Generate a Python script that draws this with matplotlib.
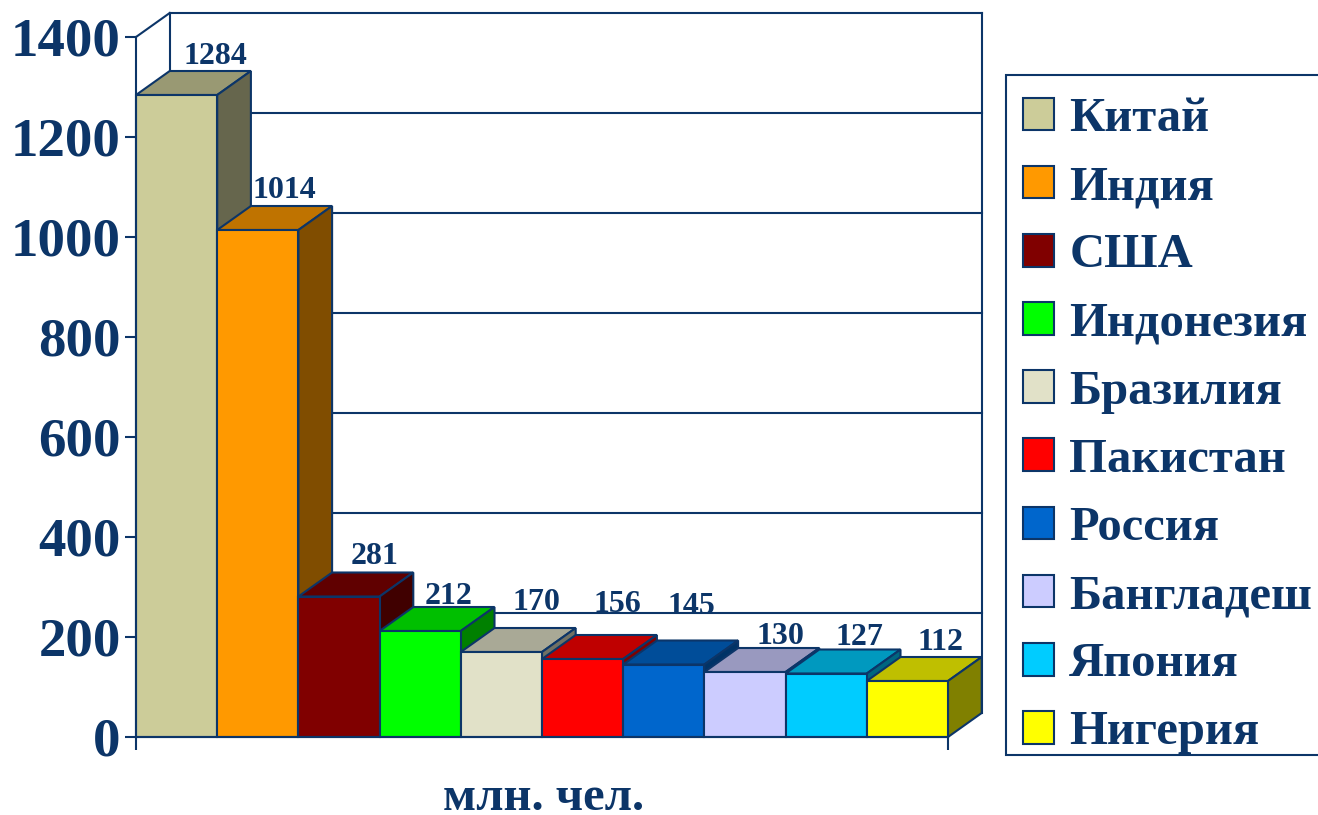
import matplotlib
matplotlib.use("Agg")
import matplotlib.pyplot as plt
from matplotlib.patches import Polygon, Patch, Rectangle
from matplotlib.colors import to_rgb

countries = ["Китай", "Индия", "США", "Индонезия", "Бразилия", "Пакистан",
             "Россия", "Бангладеш", "Япония", "Нигерия"]
population = [1284, 1014, 281, 212, 170, 156, 145, 130, 127, 112]
colors = ["#CCCC99", "#FF9900", "#800000", "#00FF00", "#E1E1C8", "#FF0000",
          "#0066CC", "#CCCCFF", "#00CCFF", "#FFFF00"]
y_ticks = [0, 200, 400, 600, 800, 1000, 1200, 1400]
x_label = "млн. чел."
# label offsets from the bar's front top centre, in pixels
label_dx = [39, 27, 36, 28, 35, 35, 28, 35, 33, 33]
label_dy = [39, 40, 40, 35, 50, 55, 58, 35, 36, 39]

W, H = 1318, 815
NAVY = "#0C3568"
LW = 1.5
plt.rcParams["font.family"] = ["Liberation Serif", "DejaVu Serif"]
plt.rcParams["font.weight"] = "bold"

fig = plt.figure(figsize=(W / 100, H / 100), dpi=100, facecolor="white")
ax = fig.add_axes([136 / W, (H - 737) / H, (948 - 136) / W, 700 / H])
ax.set_xlim(0, 10)
ax.set_ylim(0, 1400)
ax.patch.set_visible(False)

DX, DY = 0.415, 48  # 3-D depth in data units


def shade(c, f):
    return tuple(v * f for v in to_rgb(c))


# back wall, side wall and gridlines
for t in y_ticks[1:]:
    ax.plot([DX, 10 + DX], [t + DY, t + DY], color=NAVY, lw=LW, clip_on=False, zorder=1)
ax.plot([DX, DX], [DY, 1400 + DY], color=NAVY, lw=LW, clip_on=False, zorder=1)
ax.plot([10 + DX, 10 + DX], [DY, 1400 + DY], color=NAVY, lw=LW, clip_on=False, zorder=1)
ax.plot([0, DX], [1400, 1400 + DY], color=NAVY, lw=LW, clip_on=False, zorder=1)

# bars
for i, (v, c) in enumerate(zip(population, colors)):
    z = 2 + i
    top = Polygon([(i, v), (i + DX, v + DY), (i + 1 + DX, v + DY), (i + 1, v)],
                  closed=True, fc=shade(c, 0.75), ec=NAVY, lw=LW, clip_on=False, zorder=z)
    side = Polygon([(i + 1, 0), (i + 1 + DX, DY), (i + 1 + DX, v + DY), (i + 1, v)],
                   closed=True, fc=shade(c, 0.5), ec=NAVY, lw=LW, clip_on=False, zorder=z)
    ax.add_patch(top)
    ax.add_patch(side)
    ax.bar(i, v, width=1, align="edge", color=c, edgecolor=NAVY, linewidth=LW,
           zorder=z + 0.5, clip_on=False)
    ax.annotate(str(v), xy=(i + 0.5, v), xytext=(label_dx[i] * 0.72, label_dy[i] * 0.72),
                textcoords="offset points", ha="center", va="center",
                fontsize=23, color=NAVY, fontweight="bold", zorder=30)

# axes
for s in ("top", "right"):
    ax.spines[s].set_visible(False)
for s in ("left", "bottom"):
    ax.spines[s].set_color(NAVY)
    ax.spines[s].set_linewidth(LW)
    ax.spines[s].set_zorder(25)
ax.set_yticks(y_ticks)
ax.set_yticklabels([str(t) for t in y_ticks], fontsize=39.5, color=NAVY, fontweight="bold")
ax.tick_params(axis="y", length=8, width=LW, color=NAVY, pad=3)
ax.set_xticks([0, 10])
ax.set_xticklabels(["", ""])
ax.tick_params(axis="x", length=9, width=LW, color=NAVY)
ax.set_xlabel(x_label, fontsize=35, color=NAVY, fontweight="bold")
ax.xaxis.set_label_coords(0.5025, -0.056)

# legend frame runs past the right edge of the picture, as in the reference
fig.add_artist(Rectangle((1006 / W, (H - 755) / H), 340 / W, 680 / H,
                         transform=fig.transFigure, fc="white", ec=NAVY, lw=LW))

# legend
handles = [Patch(fc=c, ec=NAVY, lw=LW) for c in colors]
leg = fig.legend(handles, countries, loc="upper left",
                 bbox_to_anchor=(1023 / W, (H - 97) / H), bbox_transform=fig.transFigure,
                 prop={"family": "Liberation Serif", "weight": "bold", "size": 35},
                 labelcolor=NAVY, frameon=False, borderaxespad=0, borderpad=0,
                 handlelength=0.64, handleheight=0.66, handletextpad=0.31,
                 labelspacing=0.497)

fig.savefig("out.png", dpi=100, facecolor="white")
